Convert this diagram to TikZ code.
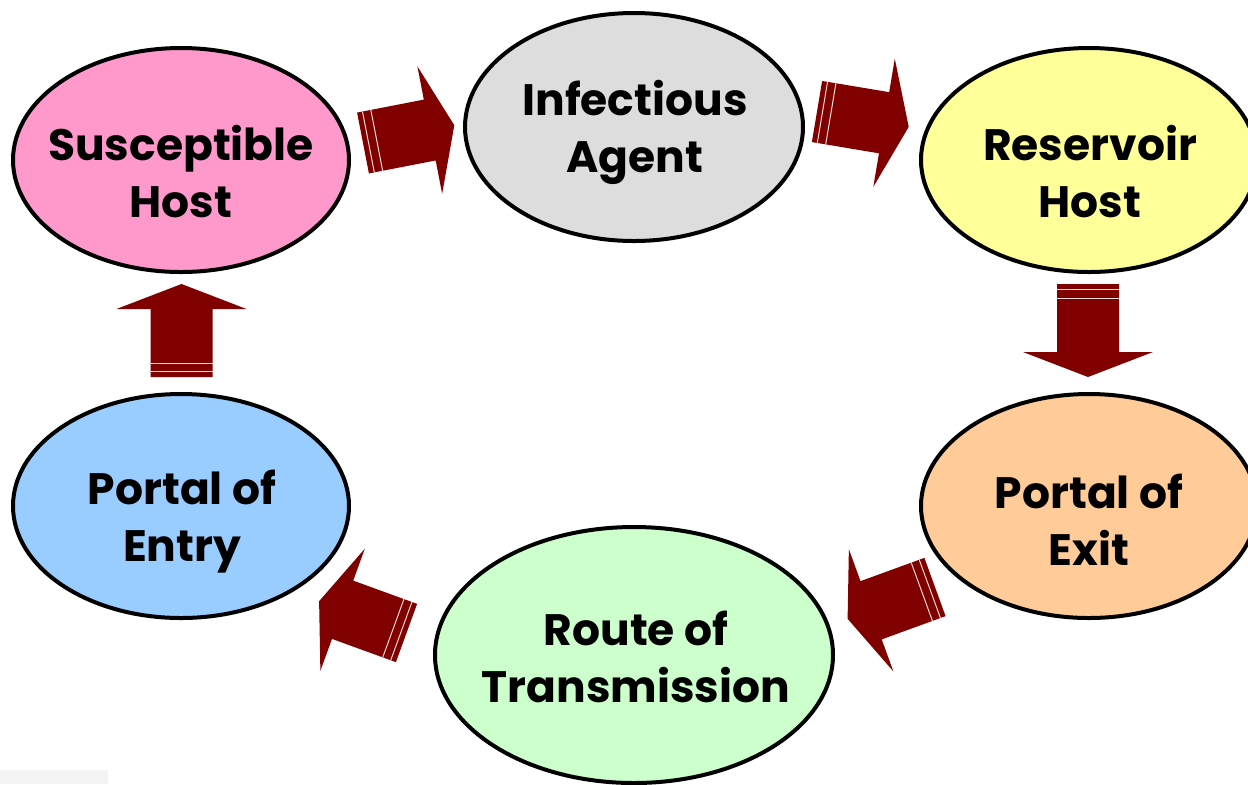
\documentclass[tikz,border=0pt]{standalone}
\usepackage{fontspec}
\setmainfont{Poppins}
\usetikzlibrary{shapes.geometric}
\definecolor{arrowred}{HTML}{800000}
\definecolor{cpink}{HTML}{FF99CC}
\definecolor{cgray}{HTML}{DDDDDD}
\definecolor{cyellow}{HTML}{FFFF99}
\definecolor{corange}{HTML}{FFCC99}
\definecolor{cgreen}{HTML}{CCFFCC}
\definecolor{cblue}{HTML}{99CCFF}
\definecolor{corner}{HTML}{F4F4F4}
\tikzset{
  blob/.style={ellipse, draw=black, line width=2pt, inner sep=0pt},
  lbl/.style={align=center, font=\bfseries\fontsize{22}{28.5}\selectfont, inner sep=0pt},
  stripe/.style={draw=white!85!arrowred, line width=0.5pt},
  pics/barrow/.style={code={
    \fill[arrowred] (0,-31) -- (68,-31) -- (68,-65) -- (93,0) -- (68,65) -- (68,31) -- (0,31) -- cycle;
    \draw[stripe] (5.5,-31) -- (5.5,31);
    \draw[stripe] (14,-31) -- (14,31);
  }}
}
\begin{document}
\begin{tikzpicture}[x=0.5pt, y=-0.5pt]
\clip (0,0) rectangle (1248,784);
\fill[white] (0,0) rectangle (1248,784);
\fill[corner] (0,770) rectangle (108,784);
% ellipses
\node[blob, fill=cpink,   minimum width=336pt*0.5, minimum height=224pt*0.5] (sus) at (181,160) {};
\node[blob, fill=cgray,   minimum width=338pt*0.5, minimum height=228pt*0.5] (inf) at (634,127) {};
\node[blob, fill=cyellow, minimum width=336pt*0.5, minimum height=224pt*0.5] (res) at (1089,160) {};
\node[blob, fill=corange, minimum width=336pt*0.5, minimum height=224pt*0.5] (exi) at (1089,506) {};
\node[blob, fill=cgreen,  minimum width=398pt*0.5, minimum height=256pt*0.5] (rou) at (634,655) {};
\node[blob, fill=cblue,   minimum width=336pt*0.5, minimum height=224pt*0.5] (ent) at (181,506) {};
% labels
\node[lbl] (tsus) at (181,172) {Susceptible\\Host};
\node[lbl] (tinf) at (635,132) {Infectious\\Agent};
\node[lbl] (tres) at (1090,172) {Reservoir\\Host};
\node[lbl] (texi) at (1089,520) {Portal of\\Exit};
\node[lbl] (trou) at (636,657) {Route of\\Transmission};
\node[lbl] (tent) at (182,522) {Portal of\\Entry};
% arrow tails
\coordinate (a1) at (363,143);
\coordinate (a2) at (817,111.5);
\coordinate (a3) at (1088,284);
\coordinate (a4) at (935,587);
\coordinate (a5) at (406.5,633);
\coordinate (a6) at (181.5,377);
\pic[rotate=11] at (a1) {barrow};
\pic[rotate=-9.5] at (a2) {barrow};
\pic[rotate=-90] at (a3) {barrow};
\pic[rotate=200] at (a4) {barrow};
\pic[rotate=160] at (a5) {barrow};
\pic[rotate=90] at (a6) {barrow};
\end{tikzpicture}
\end{document}
